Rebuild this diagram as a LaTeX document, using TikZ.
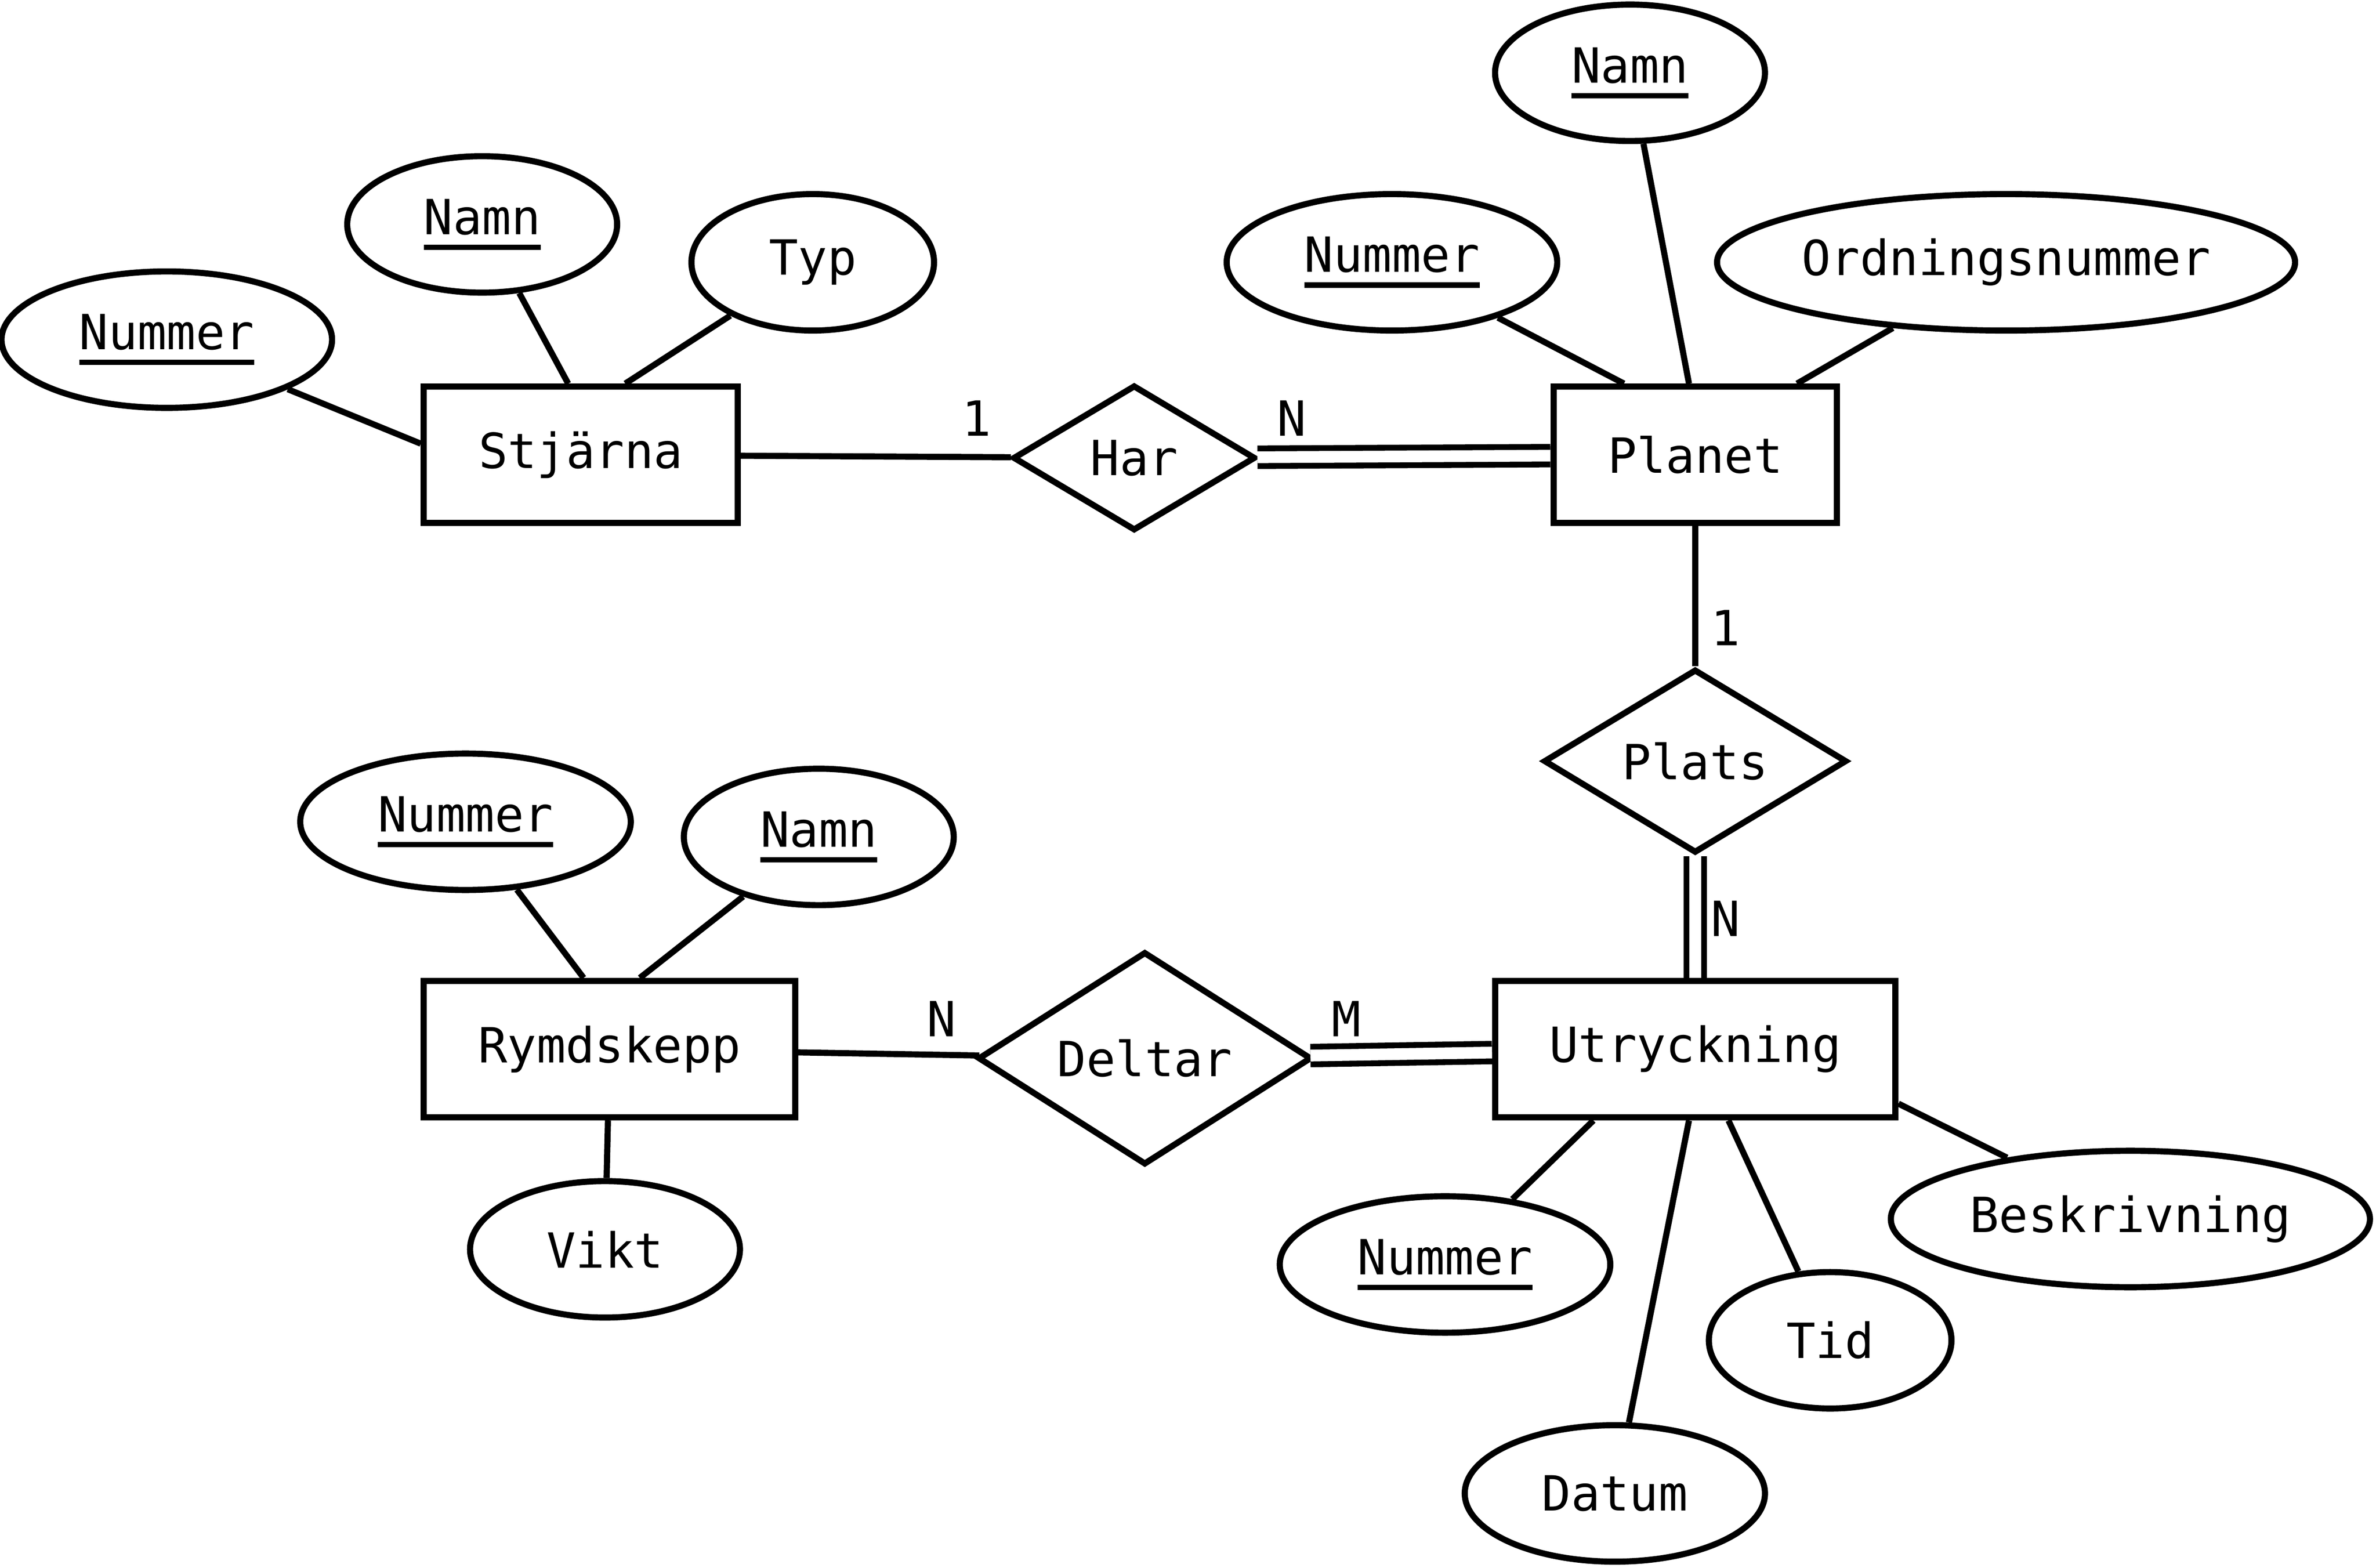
\documentclass[tikz,border=0pt]{standalone}
\usepackage{fontspec}
\setmainfont{DejaVu Sans Mono}
\usetikzlibrary{shapes.geometric}
\newcommand{\keyu}[1]{\setbox0\hbox{#1}\rlap{\rule[-0.32em]{\wd0}{0.11em}}#1}
\begin{document}
\begin{tikzpicture}[x=0.1mm,y=-0.1mm,line width=1.15pt,
  every node/.style={font=\fontsize{9.1}{11}\selectfont},
  ent/.style={draw,rectangle,inner sep=0pt},
  rel/.style={draw,diamond,inner sep=0pt},
  att/.style={draw,ellipse,inner sep=0pt},
  dbl/.style={double,double distance=2.2pt,line width=1.1pt}]
\useasboundingbox (0,0) rectangle (1567,1034);
% entities
\node[ent,minimum width=20.7mm,minimum height=9mm] (st) at (383,300) {Stjärna};
\node[ent,minimum width=18.7mm,minimum height=9mm] (pl) at (1118,300) {Planet};
\node[ent,minimum width=24.5mm,minimum height=9mm] (ry) at (402,692) {Rymdskepp};
\node[ent,minimum width=26.4mm,minimum height=9mm] (ut) at (1118,692) {Utryckning};
% relations
\node[rel,minimum width=16mm,minimum height=9.6mm] (har) at (748,302) {Har};
\node[rel,minimum width=20mm,minimum height=12mm] (plats) at (1118,502) {Plats};
\node[rel,minimum width=22mm,minimum height=13mm] (del) at (755,698) {Deltar};
% attributes
\node[att,minimum width=21.8mm,minimum height=9mm] (a1) at (110,224) {\keyu{Nummer}};
\node[att,minimum width=17.8mm,minimum height=9mm] (a2) at (318,148) {\keyu{Namn}};
\node[att,minimum width=16mm,minimum height=9mm] (a3) at (536,173) {Typ};
\node[att,minimum width=17.8mm,minimum height=9mm] (b1) at (1075,48) {\keyu{Namn}};
\node[att,minimum width=21.8mm,minimum height=9mm] (b2) at (918,173) {\keyu{Nummer}};
\node[att,minimum width=37.2mm,minimum height=9mm] (b3) at (1323,173) {Ordningsnummer};
\node[att,minimum width=21.8mm,minimum height=9mm] (c1) at (307,542) {\keyu{Nummer}};
\node[att,minimum width=17.8mm,minimum height=9mm] (c2) at (540,552) {\keyu{Namn}};
\node[att,minimum width=17.8mm,minimum height=9mm] (c3) at (399,824) {Vikt};
\node[att,minimum width=21.8mm,minimum height=9mm] (d1) at (953,834) {\keyu{Nummer}};
\node[att,minimum width=19.8mm,minimum height=9mm] (d2) at (1065,985) {Datum};
\node[att,minimum width=16mm,minimum height=9mm] (d3) at (1207,884) {Tid};
\node[att,minimum width=31.6mm,minimum height=9mm] (d4) at (1405,804) {Beskrivning};
% attribute lines
\draw (a1) -- (st.176);
\draw (a2) -- (st.100);
\draw (a3) -- (st.58);
\draw (b1) -- (pl.95);
\draw (b2) -- (pl.135);
\draw (b3) -- (pl.35);
\draw (c1) -- (ry.110);
\draw (c2) -- (ry.67);
\draw (c3) -- (ry);
\draw (d1) -- (ut.-145);
\draw (d2) -- (ut.-95);
\draw (d3) -- (ut.-65);
\draw (d4) -- (ut.-15);
% relationship lines
\draw (st) -- (har);
\draw[dbl] (har) -- (pl);
\draw (pl) -- (plats);
\draw[dbl] (plats) -- (ut);
\draw (ry) -- (del);
\draw[dbl] (del) -- (ut);
% cardinalities
\node (l1) at (644,276) {1};
\node (l2) at (852,276) {N};
\node (l3) at (1138,414) {1};
\node (l4) at (1138,606) {N};
\node (l5) at (621,672) {N};
\node (l6) at (888,672) {M};
\end{tikzpicture}
\end{document}
